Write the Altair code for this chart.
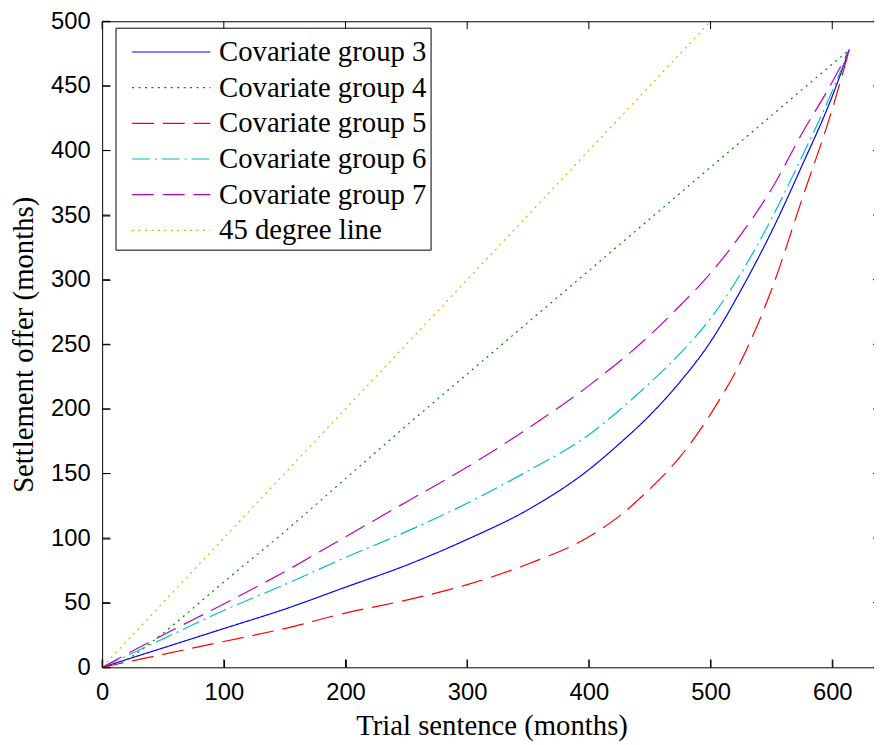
import altair as alt
import pandas as pd

# ---------------- data ----------------
series_names = ["Covariate group 3", "Covariate group 4", "Covariate group 5",
                "Covariate group 6", "Covariate group 7", "45 degree line"]

g3_x = [0, 50, 100, 150, 200, 250, 300, 350, 400, 425, 450, 475, 500, 525, 550, 575, 600, 614]
g3_y = [0, 15, 30, 45, 62, 79, 99, 122, 153, 173, 195, 221, 252, 292, 337, 388, 442, 478]

g4_x = [0, 20, 40, 60, 80, 100, 150, 200, 250, 300, 350, 400, 450, 500, 550, 614]
g4_y = [0, 6, 19, 34, 50, 66, 105, 146, 187, 227, 267, 307, 347, 387, 427, 478]

g5_x = [0, 50, 100, 150, 200, 250, 300, 350, 400, 425, 450, 475, 500, 525, 550, 575, 600, 614]
g5_y = [0, 10, 20, 30, 42, 52, 64, 80, 101, 117, 138, 163, 196, 237, 292, 362, 432, 478]

g6_x = [0, 50, 100, 150, 200, 250, 300, 350, 400, 425, 450, 475, 500, 525, 550, 575, 600, 614]
g6_y = [0, 22, 44, 64, 85, 105, 127, 152, 180, 199, 220, 243, 270, 305, 347, 395, 446, 478]

g7_x = [0, 50, 100, 150, 200, 250, 300, 350, 400, 450, 475, 500, 525, 550, 575, 600, 614]
g7_y = [0, 25, 49, 74, 101, 128, 155, 185, 218, 257, 280, 305, 335, 370, 413, 453, 478]

d45_x = [0, 500]
d45_y = [0, 500]

x_ticks = [0, 100, 200, 300, 400, 500, 600]
y_ticks = [0, 50, 100, 150, 200, 250, 300, 350, 400, 450, 500]

# ---------------- styling ----------------
colors = ["#0000FF", "#008000", "#FF0000", "#00BFBF", "#BF00BF", "#BFBF00"]
dashes = [[1, 0], [2, 4.5], [22, 9], [18, 5, 2, 5], [22, 9], [2, 4.5]]

W, H = 786, 652
X_MAX, Y_MAX = 640, 500
TICK = 8

rows = []
for name, xs, ys in zip(series_names,
                        [g3_x, g4_x, g5_x, g6_x, g7_x, d45_x],
                        [g3_y, g4_y, g5_y, g6_y, g7_y, d45_y]):
    for i, (a, b) in enumerate(zip(xs, ys)):
        rows.append({"series": name, "x": a, "y": b, "order": i})
df = pd.DataFrame(rows)

xscale = alt.Scale(domain=[0, X_MAX], nice=False, zero=False)
yscale = alt.Scale(domain=[0, Y_MAX], nice=False, zero=False)

# legend line: custom path twice the nominal symbol width (keeps rows compact)
legend = alt.Legend(
    orient="none", legendX=13.5, legendY=6.5, title=None,
    fillColor="white", strokeColor="black",
    padding=4, labelFont="Liberation Serif", labelFontSize=29,
    labelColor="black", symbolType="M-2,0H2", symbolSize=1560,
    symbolStrokeWidth=1.2, symbolFillColor="transparent",
    labelOffset=27.75, rowPadding=0,
    symbolOffset=31.75, labelLimit=400,
)

# axes shifted inward by the tick length so that their ticks point into the box
lines = alt.Chart(df).mark_line(strokeWidth=1.2, interpolate="monotone", clip=True).encode(
    x=alt.X("x:Q", scale=xscale,
            axis=alt.Axis(values=x_ticks, title="Trial sentence (months)",
                          ticks=True, tickSize=TICK, tickColor="black", tickWidth=1,
                          offset=-TICK, domain=False, zindex=1,
                          labelPadding=13, grid=False, labelFlush=False,
                          titleY=68 + TICK, titleBaseline="alphabetic")),
    y=alt.Y("y:Q", scale=yscale,
            axis=alt.Axis(values=y_ticks, title="Settlement offer (months)",
                          ticks=True, tickSize=TICK, tickColor="black", tickWidth=1,
                          offset=-TICK, domain=False, zindex=1,
                          labelPadding=12, grid=False, labelFlush=False,
                          titleX=-70 - TICK, titleY=H / 2, titleAngle=270,
                          titleBaseline="alphabetic", titleAlign="center")),
    color=alt.Color("series:N", scale=alt.Scale(domain=series_names, range=colors), legend=legend),
    strokeDash=alt.StrokeDash("series:N", scale=alt.Scale(domain=series_names, range=dashes), legend=legend),
    order="order:Q",
)

# inward (MATLAB style) ticks on all four sides of the box
xt = pd.DataFrame({"t": x_ticks})
yt = pd.DataFrame({"t": y_ticks})
tick_bottom = alt.Chart(xt).mark_rule(color="black", strokeWidth=1).encode(
    x=alt.X("t:Q", scale=xscale, axis=None), y=alt.value(H), y2=alt.value(H - TICK))
tick_top = alt.Chart(xt).mark_rule(color="black", strokeWidth=1).encode(
    x=alt.X("t:Q", scale=xscale, axis=None), y=alt.value(0), y2=alt.value(TICK))
tick_left = alt.Chart(yt).mark_rule(color="black", strokeWidth=1).encode(
    y=alt.Y("t:Q", scale=yscale, axis=None), x=alt.value(0), x2=alt.value(TICK))
tick_right = alt.Chart(yt).mark_rule(color="black", strokeWidth=1).encode(
    y=alt.Y("t:Q", scale=yscale, axis=None), x=alt.value(W - TICK), x2=alt.value(W))

chart = alt.layer(lines, tick_bottom, tick_top, tick_left, tick_right).resolve_axis(
    x="independent", y="independent"
).properties(
    width=W, height=H,
    autosize=alt.AutoSizeParams(type="none"),
    padding={"left": 95, "top": 10, "right": -7, "bottom": 75},
).configure(
    background="white"
).configure_view(
    stroke="black", strokeWidth=1
).configure_axis(
    domainColor="black", domainWidth=1,
    labelFont="Liberation Sans", labelFontSize=24, labelColor="black",
    titleFont="Liberation Serif", titleFontSize=29, titleFontWeight="normal",
    titleColor="black",
)

chart.save("out.html", embed_options={"renderer": "svg", "actions": False})
